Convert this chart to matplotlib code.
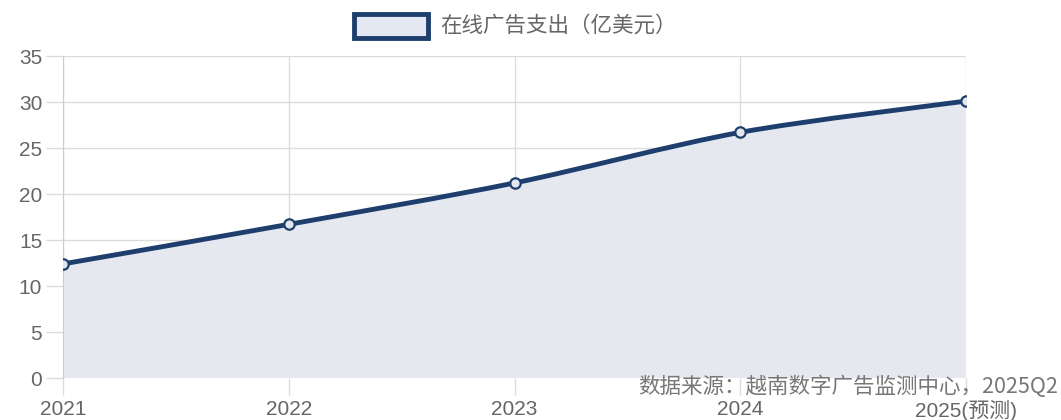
import numpy as np
import matplotlib.pyplot as plt
from matplotlib.path import Path
from matplotlib.patches import PathPatch, Rectangle

plt.rcParams['font.family'] = ['Liberation Sans', 'Noto Sans CJK SC', 'DejaVu Sans']
cjk = ['Noto Sans CJK SC', 'DejaVu Sans']

years = ['2021', '2022', '2023', '2024', '2025(预测)']
spend = [12.4, 16.7, 21.2, 26.7, 30.1]
series_name = '在线广告支出（亿美元）'
source_note = '数据来源：越南数字广告监测中心，2025Q2'

navy = '#1e3f6e'
fill = '#e5e8ee'
grid = '#dcdcdc'
txt = '#666666'

fig = plt.figure(figsize=(10.61, 4.2), dpi=100)
ax = fig.add_axes([63 / 1061, 1 - 378 / 420, (966 - 63) / 1061, (378 - 56) / 420])

x = np.arange(len(years))
y = np.array(spend, dtype=float)


# smooth line through the points (cubic bezier, chart.js style tension)
def smooth_path(xs, ys, t=0.3):
    verts = [(xs[0], ys[0])]
    codes = [Path.MOVETO]
    n = len(xs)
    for i in range(n - 1):
        p0 = (xs[max(i - 1, 0)], ys[max(i - 1, 0)])
        p1 = (xs[i], ys[i])
        p2 = (xs[i + 1], ys[i + 1])
        p3 = (xs[min(i + 2, n - 1)], ys[min(i + 2, n - 1)])
        c1 = (p1[0] + (p2[0] - p0[0]) * t / 2, p1[1] + (p2[1] - p0[1]) * t / 2)
        c2 = (p2[0] - (p3[0] - p1[0]) * t / 2, p2[1] - (p3[1] - p1[1]) * t / 2)
        verts += [c1, c2, p2]
        codes += [Path.CURVE4] * 3
    return verts, codes


verts, codes = smooth_path(x, y)
area = verts + [(x[-1], 0), (x[0], 0), (x[0], y[0])]
area_codes = codes + [Path.LINETO, Path.LINETO, Path.LINETO]
ax.add_patch(PathPatch(Path(area, area_codes), facecolor=fill, edgecolor='none', zorder=1))
ax.add_patch(PathPatch(Path(verts, codes), facecolor='none', edgecolor=navy, lw=3.5,
                       capstyle='round', joinstyle='round', zorder=3))
ax.plot(x, y, 'o', ms=7.5, mfc='#e2e6ee', mec=navy, mew=1.6, zorder=4)

ax.set_xlim(0, len(years) - 1)
ax.set_ylim(0, 35)
ax.set_yticks(range(0, 36, 5))
ax.set_xticks(x)
ax.set_xticklabels(years)
ax.grid(True, color=grid, lw=1, zorder=0)
ax.set_axisbelow(True)
for s in ['top', 'right', 'bottom']:
    ax.spines[s].set_visible(False)
ax.spines['left'].set_color('#cccccc')
ax.tick_params(axis='both', colors=grid, labelcolor=txt, labelsize=15, length=12, width=1)
ax.tick_params(axis='y', pad=3)
ax.tick_params(axis='x', pad=4)

# legend box + label
fig.patches.append(Rectangle((354 / 1061, 1 - 38 / 420), 74 / 1061, 24 / 420,
                             transform=fig.transFigure, facecolor='#e4e8f2',
                             edgecolor=navy, lw=3.5))
fig.text(440 / 1061, 1 - 26 / 420, series_name, fontsize=15.5, color=txt,
         va='center', ha='left', family=cjk)

fig.text(1058 / 1061, 1 - 387 / 420, source_note, fontsize=15.5, color='#777777',
         ha='right', va='center', family=cjk)

fig.savefig('out.png', dpi=100)
